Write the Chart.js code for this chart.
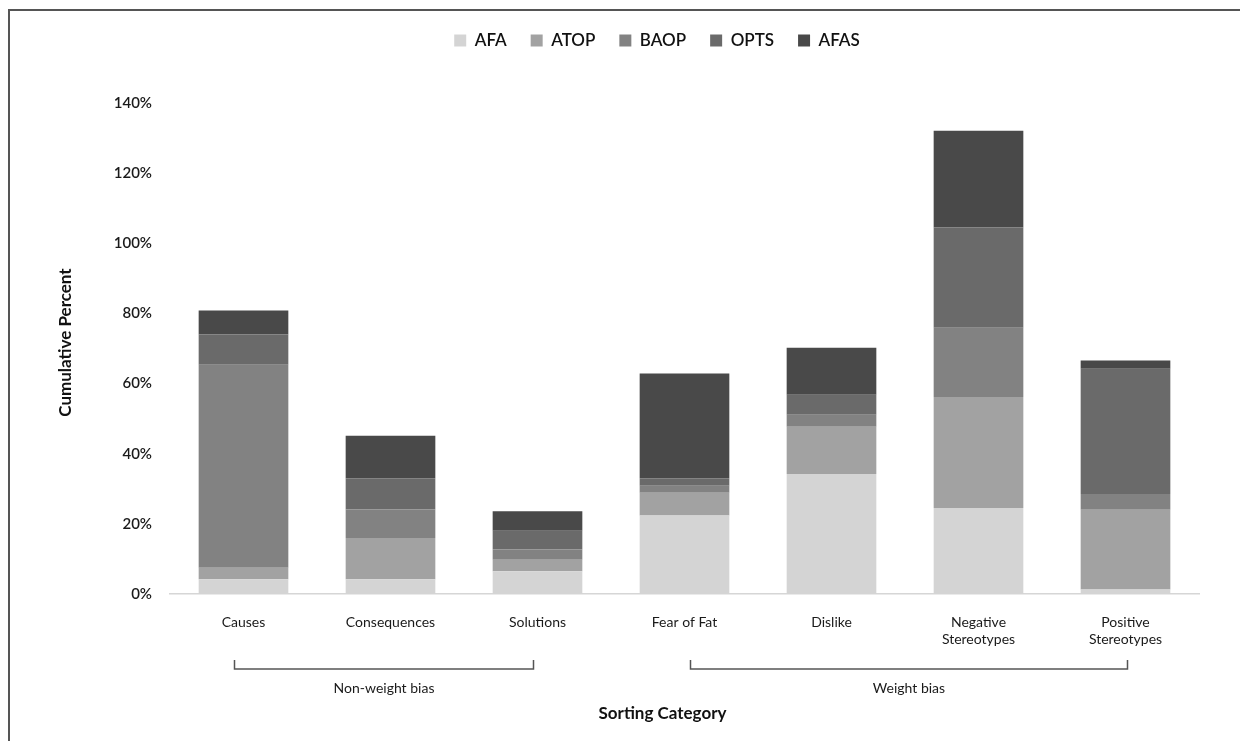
<!DOCTYPE html>
<html>
<head>
<meta charset="utf-8">
<script src="https://cdn.jsdelivr.net/npm/chart.js@4.4.1/dist/chart.umd.min.js"></script>
<style>
  html, body { margin: 0; padding: 0; background: #fff; }
  #wrap { width: 1240px; height: 741px; position: relative; }
</style>
</head>
<body>
<div id="wrap"><canvas id="c" width="1240" height="741"></canvas></div>
<script>
const categories = ["Causes", "Consequences", "Solutions", "Fear of Fat", "Dislike",
  ["Negative", "Stereotypes"], ["Positive", "Stereotypes"]];
const seriesNames = ["AFA", "ATOP", "BAOP", "OPTS", "AFAS"];
const AFA  = [4.2, 4.2, 6.5, 22.4, 34.2, 24.5, 1.3];
const ATOP = [3.3, 11.8, 3.3, 6.5, 13.5, 31.7, 22.7];
const BAOP = [57.9, 8.1, 2.9, 2.0, 3.4, 19.7, 4.5];
const OPTS = [8.6, 8.9, 5.3, 2.1, 5.7, 28.6, 35.7];
const AFAS = [6.8, 12.1, 5.6, 29.9, 13.4, 27.6, 2.4];
const yTicks = [0, 20, 40, 60, 80, 100, 120, 140];
const groups = [
  { label: "Non-weight bias", from: 0, to: 2 },
  { label: "Weight bias", from: 3, to: 6 }
];
const colors = ["#d4d4d4", "#a2a2a2", "#828282", "#6a6a6a", "#494949"];
const seriesValues = [AFA, ATOP, BAOP, OPTS, AFAS];

const FONT = "Lato, 'Open Sans', sans-serif";

const decor = {
  id: "decor",
  beforeLayout(chart) {
    const lg = chart.legend;
    if (lg && !lg._patched) {
      const orig = lg.fit;
      lg.fit = function () { orig.call(this); this.height += 44; };
      lg._patched = true;
    }
  },
  beforeDraw(chart) {
    const ctx = chart.ctx;
    ctx.save();
    ctx.fillStyle = "#ffffff";
    ctx.fillRect(0, 0, chart.width, chart.height);
    ctx.strokeStyle = "#555555";
    ctx.lineWidth = 2;
    ctx.beginPath();
    ctx.moveTo(9, chart.height);
    ctx.lineTo(9, 10);
    ctx.lineTo(chart.width, 10);
    ctx.stroke();
    ctx.restore();
  },
  afterDraw(chart) {
    const ctx = chart.ctx;
    const x = chart.scales.x;
    const area = chart.chartArea;
    ctx.save();
    const offs = [[-9, -4], [6, 2]];
    ctx.strokeStyle = "#555555";
    ctx.lineWidth = 1.5;
    ctx.fillStyle = "#1a1a1a";
    ctx.font = "14px " + FONT;
    ctx.textAlign = "center";
    ctx.textBaseline = "middle";
    groups.forEach((g, i) => {
      const x0 = x.getPixelForValue(g.from) + offs[i][0];
      const x1 = x.getPixelForValue(g.to) + offs[i][1];
      const yTop = area.bottom + 66, yBot = area.bottom + 75;
      ctx.beginPath();
      ctx.moveTo(x0, yTop);
      ctx.lineTo(x0, yBot);
      ctx.lineTo(x1, yBot);
      ctx.lineTo(x1, yTop);
      ctx.stroke();
      ctx.fillText(g.label, (x0 + x1) / 2, area.bottom + 94);
    });
    ctx.font = "bold 17px " + FONT;
    ctx.fillStyle = "#111111";
    ctx.fillText("Sorting Category", (area.left + area.right) / 2 - 22, area.bottom + 120);
    ctx.translate(66, (area.top + area.bottom) / 2 - 6);
    ctx.rotate(-Math.PI / 2);
    ctx.fillText("Cumulative Percent", 0, 0);
    ctx.restore();
  }
};

new Chart(document.getElementById("c"), {
  type: "bar",
  data: {
    labels: categories,
    datasets: seriesNames.map((n, i) => ({
      label: n,
      data: seriesValues[i],
      backgroundColor: colors[i],
      borderWidth: 0,
      barPercentage: 0.61,
      categoryPercentage: 1.0
    }))
  },
  options: {
    responsive: false,
    animation: false,
    layout: { padding: { left: 115, right: 41, top: 8, bottom: 0 } },
    plugins: {
      legend: {
        position: "top",
        labels: {
          font: { family: FONT, size: 17, weight: "600" },
          color: "#111111",
          boxWidth: 12,
          boxHeight: 12,
          padding: 24
        }
      },
      tooltip: { enabled: false }
    },
    scales: {
      x: {
        stacked: true,
        grid: { display: false, drawTicks: false },
        border: { display: true, color: "#d6d6d6", width: 1.5 },
        ticks: {
          font: { family: FONT, size: 14 },
          color: "#1a1a1a",
          padding: 20,
          maxRotation: 0,
          autoSkip: false
        },
        afterFit(scale) { scale.height = 147; }
      },
      y: {
        stacked: true,
        min: 0,
        max: 140,
        grid: { display: false, drawTicks: false },
        border: { display: false },
        afterBuildTicks(scale) { scale.ticks = yTicks.map(v => ({ value: v })); },
        ticks: {
          font: { family: FONT, size: 15, weight: "600" },
          color: "#1a1a1a",
          padding: 18,
          callback: v => v + "%"
        },
        afterFit(scale) { scale.width = 55; }
      }
    }
  },
  plugins: [decor]
});
</script>
</body>
</html>
